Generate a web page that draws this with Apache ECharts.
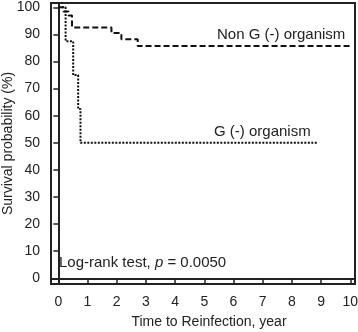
<!DOCTYPE html>
<html>
<head>
<meta charset="utf-8">
<script src="https://cdn.jsdelivr.net/npm/echarts@6/dist/echarts.min.js"></script>
<style>
  html, body { margin: 0; padding: 0; background: #fff; }
  #chart { width: 358px; height: 332px; }
</style>
</head>
<body>
<div id="chart"></div>
<script>
// step points (time in years, survival in %)
const nonGTime = [0, 0.18, 0.35, 0.47, 1.82, 2.16, 2.72, 10];
const nonGSurv = [100, 98.5, 97, 92.6, 90.5, 88.2, 85.7, 85.7];
const gTime = [0, 0.25, 0.51, 0.68, 0.76, 8.88];
const gSurv = [100, 87.5, 75, 62.5, 50, 50];

const xTicks = [0, 1, 2, 3, 4, 5, 6, 7, 8, 9, 10];
const yTicks = [0, 10, 20, 30, 40, 50, 60, 70, 80, 90, 100];

const fontFamily = "'Liberation Sans', Arial, sans-serif";
const inkColor = "#222";

const pairs = (xs, ys) => xs.map((x, i) => [x, ys[i]]);

const chart = echarts.init(document.getElementById("chart"));
chart.setOption({
  animation: false,
  grid: {
    left: 51,
    right: 3,
    top: 3,
    bottom: 48,
    show: true,
    borderColor: inkColor,
    borderWidth: 2,
    outerBoundsMode: "none"
  },
  xAxis: {
    type: "value",
    min: -0.25,
    max: 10.16,
    name: "Time to Reinfection, year",
    nameLocation: "middle",
    nameGap: 31,
    nameMoveOverlap: false,
    nameTextStyle: { fontSize: 14, color: inkColor, fontFamily: fontFamily, padding: [0, 0, 0, 12] },
    axisLine: { show: true, lineStyle: { color: inkColor, width: 2 } },
    axisTick: { show: true, length: 5, customValues: xTicks, lineStyle: { color: inkColor, width: 1.5 } },
    axisLabel: { customValues: xTicks, margin: 11, fontSize: 14, color: inkColor, fontFamily: fontFamily },
    splitLine: { show: false }
  },
  yAxis: {
    type: "value",
    min: -2.1,
    max: 101.6,
    name: "Survival probability (%)",
    nameLocation: "middle",
    nameGap: 36,
    nameMoveOverlap: false,
    nameTextStyle: { fontSize: 14, color: inkColor, fontFamily: fontFamily },
    axisLine: { show: true, lineStyle: { color: inkColor, width: 2 } },
    axisTick: { show: true, length: 5, customValues: yTicks, lineStyle: { color: inkColor, width: 1.5 } },
    axisLabel: { customValues: yTicks, margin: 11, fontSize: 14, color: inkColor, fontFamily: fontFamily },
    splitLine: { show: false }
  },
  series: [
    {
      name: "Non G (-) organism",
      type: "line",
      step: "end",
      symbol: "none",
      data: pairs(nonGTime, nonGSurv),
      lineStyle: { color: "#111", width: 2, type: [6, 3] }
    },
    {
      name: "G (-) organism",
      type: "line",
      step: "end",
      symbol: "none",
      data: pairs(gTime, gSurv),
      lineStyle: { color: "#111", width: 2, type: [2, 1.5] }
    }
  ],
  graphic: [
    {
      type: "text",
      left: 217,
      top: 27,
      style: { text: "Non G (-) organism", font: "15px " + fontFamily, fill: inkColor }
    },
    {
      type: "text",
      left: 214,
      top: 124,
      style: { text: "G (-) organism", font: "15px " + fontFamily, fill: inkColor }
    },
    {
      type: "text",
      left: 59,
      top: 255,
      style: {
        text: "Log-rank test, {i|p} = 0.0050",
        font: "15px " + fontFamily,
        fill: inkColor,
        rich: { i: { fontStyle: "italic", fontSize: 15, fontFamily: fontFamily, fill: inkColor } }
      }
    }
  ]
});
</script>
</body>
</html>
